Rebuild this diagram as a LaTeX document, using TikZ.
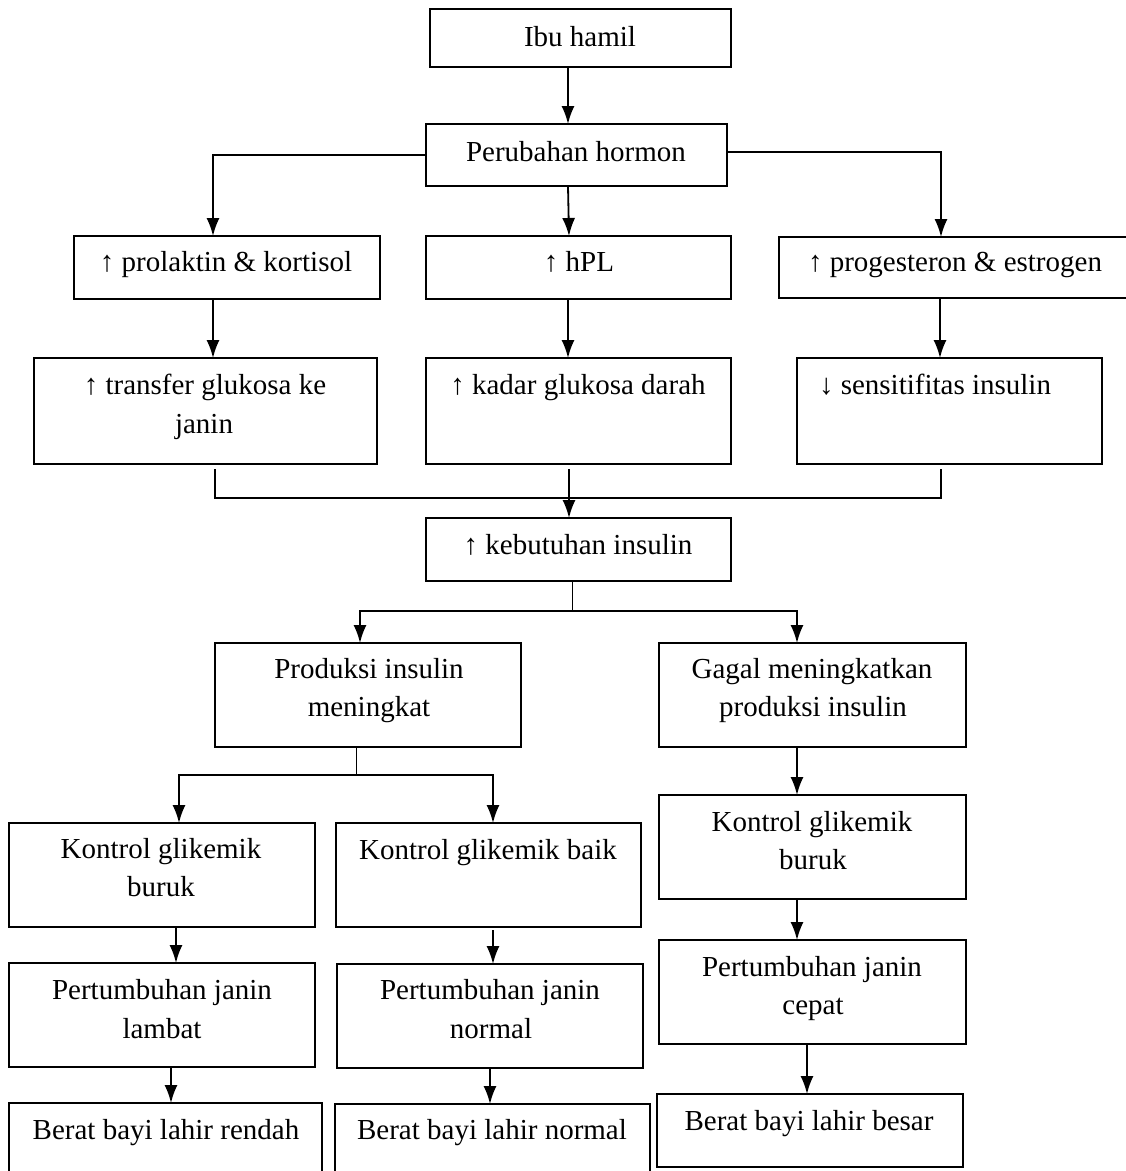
\documentclass[tikz,border=0pt]{standalone}
\usepackage{fontspec}
\setmainfont{Liberation Serif}
\usetikzlibrary{arrows.meta,calc}
\tikzset{
  box/.style={draw, line width=1.8pt, inner sep=0pt, outer sep=0pt},
  lbl/.style={font=\fontsize{29}{35}\selectfont, inner sep=0pt, text height=20.3pt, text depth=7.25pt},
  conn/.style={line width=1.8pt},
  arr/.style={conn, -{Latex[length=18pt,width=13pt]}},
  thinconn/.style={line width=1pt},
}
\newcommand\mybox[5]{\node[box, minimum width={#4-#2}, minimum height={#5-#3}] (#1) at ({(#2+#4)/2},{(#3+#5)/2}) {};}
\begin{document}
\begin{tikzpicture}[x=1pt,y=-1pt]
\clip (0,0) rectangle (1126,1171);
\fill[white] (0,0) rectangle (1126,1171);
% boxes
\mybox{ibu}{430}{9}{731}{67}
\mybox{per}{426}{124}{727}{186}
\mybox{pro}{74}{236}{380}{299}
\mybox{hpl}{426}{236}{731}{299}
\mybox{prg}{779}{237}{1135}{298}
\mybox{tr}{34}{358}{377}{464}
\mybox{kd}{426}{358}{731}{464}
\mybox{se}{797}{358}{1102}{464}
\mybox{kb}{426}{518}{731}{581}
\mybox{pi}{215}{643}{521}{747}
\mybox{gm}{659}{643}{966}{747}
\mybox{kl}{9}{823}{315}{927}
\mybox{kbk}{336}{823}{641}{927}
\mybox{kr}{659}{795}{966}{899}
\mybox{pl}{9}{963}{315}{1067}
\mybox{pn}{337}{964}{643}{1068}
\mybox{pc}{659}{940}{966}{1044}
\mybox{bl}{9}{1103}{322}{1190}
\mybox{bn}{335}{1104}{650}{1190}
\mybox{bb}{657}{1094}{963}{1167}
% labels
\node[lbl] (t1) at (580,40) {Ibu hamil};
\node[lbl] (t2) at (576,155) {Perubahan hormon};
\node[lbl] (t3) at (226,265) {↑ prolaktin \& kortisol};
\node[lbl] (t4) at (579,265) {↑ hPL};
\node[lbl] (t5) at (955,265) {↑ progesteron \& estrogen};
\node[lbl] (t6a) at (205,388) {↑ transfer glukosa ke};
\node[lbl] (t6b) at (204,427) {janin};
\node[lbl] (t7) at (578,388) {↑ kadar glukosa darah};
\node[lbl] (t8) at (935,388) {↓ sensitifitas insulin};
\node[lbl] (t9) at (578,548) {↑ kebutuhan insulin};
\node[lbl] (t10a) at (369,672) {Produksi insulin};
\node[lbl] (t10b) at (369,710) {meningkat};
\node[lbl] (t11a) at (812,672) {Gagal meningkatkan};
\node[lbl] (t11b) at (813,710) {produksi insulin};
\node[lbl] (t12a) at (161,852) {Kontrol glikemik};
\node[lbl] (t12b) at (161,890) {buruk};
\node[lbl] (t13) at (488,853) {Kontrol glikemik baik};
\node[lbl] (t14a) at (812,825) {Kontrol glikemik};
\node[lbl] (t14b) at (813,863) {buruk};
\node[lbl] (t15a) at (162,993) {Pertumbuhan janin};
\node[lbl] (t15b) at (162,1032) {lambat};
\node[lbl] (t16a) at (490,993) {Pertumbuhan janin};
\node[lbl] (t16b) at (491,1032) {normal};
\node[lbl] (t17a) at (812,970) {Pertumbuhan janin};
\node[lbl] (t17b) at (813,1008) {cepat};
\node[lbl] (t18) at (166,1133) {Berat bayi lahir rendah};
\node[lbl] (t19) at (492,1133) {Berat bayi lahir normal};
\node[lbl] (t20) at (809,1124) {Berat bayi lahir besar};
% connectors
\draw[arr] (ibu.south -| 568,0) -- (per.north -| 568,0);
\draw[arr] (per.west) -| (pro.north -| 213,0);
\draw[arr] ([yshift=3pt]per.east) -| (prg.north -| 941,0);
\draw[arr] (per.south -| 568,0) -- (hpl.north -| 569,0);
\draw[arr] (pro.south -| 213,0) -- (tr.north -| 213,0);
\draw[arr] (hpl.south -| 568,0) -- (kd.north -| 568,0);
\draw[arr] (prg.south -| 940,0) -- (se.north -| 940,0);
\coordinate (mj) at (569,498);
\draw[conn] ($(tr.south -| 215,0)+(0,5)$) |- (mj) -| ($(se.south -| 941,0)+(0,5)$);
\draw[arr] ($(kd.south -| 569,0)+(0,5)$) -- (kb.north -| 569,0);
\coordinate (s1) at (572,611);
\draw[thinconn] (kb.south -| 572,0) -- (s1);
\draw[arr] (s1) -| (pi.north -| 360,0);
\draw[arr] (s1) -| (gm.north -| 797,0);
\coordinate (s2) at (356,775);
\draw[thinconn] (pi.south -| 356,0) -- (s2);
\draw[arr] (s2) -| (kl.north -| 179,0);
\draw[arr] (s2) -| (kbk.north -| 493,0);
\draw[arr] (gm.south -| 797,0) -- (kr.north -| 797,0);
\draw[arr] (kl.south -| 176,0) -- (pl.north -| 176,0);
\draw[arr] ($(kbk.south -| 493,0)+(0,3)$) -- (pn.north -| 493,0);
\draw[arr] (kr.south -| 797,0) -- (pc.north -| 797,0);
\draw[arr] (pl.south -| 171,0) -- (bl.north -| 171,0);
\draw[arr] (pn.south -| 490,0) -- (bn.north -| 490,0);
\draw[arr] (pc.south -| 807,0) -- (bb.north -| 807,0);
\end{tikzpicture}
\end{document}
